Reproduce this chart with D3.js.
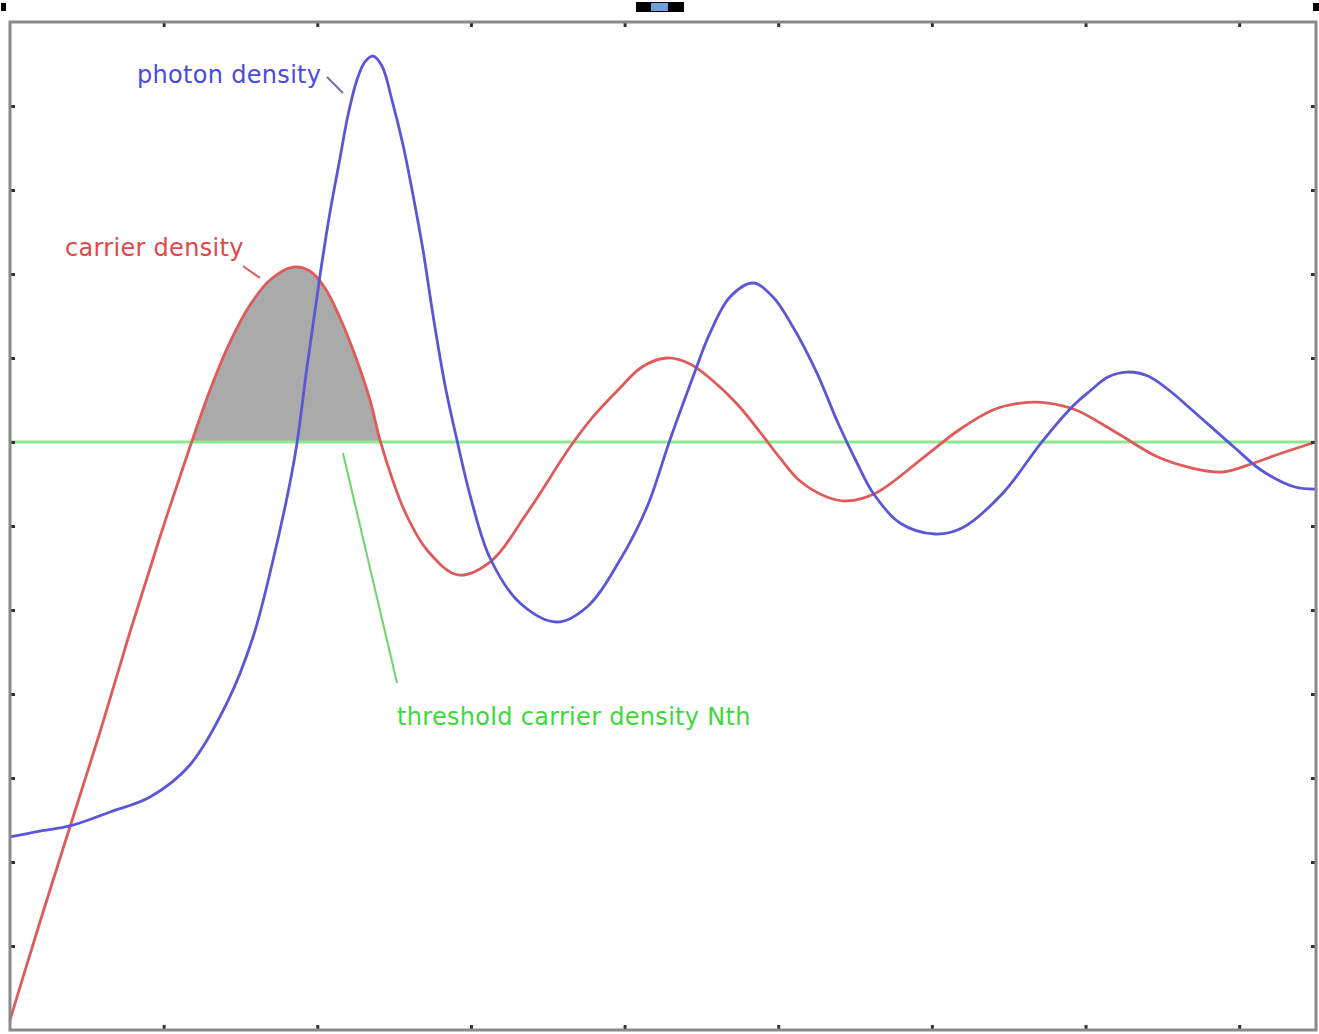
<!DOCTYPE html>
<html>
<head>
<meta charset="utf-8">
<script src="https://cdn.jsdelivr.net/npm/d3@7"></script>
<style>
  body { margin: 0; background: #fff; }
  svg { display: block; }
</style>
</head>
<body>
<div id="chart"></div>
<script>
// carrier density (red)
const carrierT = [0, 0.195, 0.390, 0.586, 0.781, 0.976, 1.171, 1.302, 1.432, 1.562, 1.692, 1.842, 1.952, 2.050, 2.148, 2.245, 2.343, 2.408, 2.486, 2.571, 2.714, 2.916, 3.124, 3.365, 3.645, 3.794, 3.970, 4.113, 4.276, 4.426, 4.569, 4.732, 4.881, 5.011, 5.142, 5.317, 5.447, 5.636, 5.949, 6.176, 6.398, 6.580, 6.756, 6.938, 7.205, 7.471, 7.693, 7.895, 8.096, 8.279, 8.5];
const carrierN = [0.119, 1.286, 2.417, 3.548, 4.738, 5.869, 6.940, 7.619, 8.190, 8.631, 8.929, 9.083, 9.036, 8.833, 8.476, 8.036, 7.5, 7.024, 6.571, 6.167, 5.714, 5.417, 5.571, 6.155, 6.940, 7.298, 7.643, 7.893, 8.0, 7.929, 7.738, 7.452, 7.119, 6.810, 6.536, 6.345, 6.298, 6.393, 6.821, 7.143, 7.381, 7.464, 7.464, 7.381, 7.107, 6.821, 6.690, 6.643, 6.750, 6.869, 7.0];

// photon density (blue)
const photonT = [0, 0.195, 0.390, 0.651, 0.911, 1.171, 1.412, 1.582, 1.712, 1.822, 1.868, 1.933, 1.972, 2.018, 2.083, 2.148, 2.200, 2.258, 2.310, 2.363, 2.421, 2.486, 2.558, 2.623, 2.688, 2.753, 2.831, 2.909, 2.994, 3.124, 3.319, 3.560, 3.755, 3.970, 4.146, 4.295, 4.445, 4.556, 4.686, 4.836, 4.966, 5.096, 5.252, 5.389, 5.513, 5.617, 5.792, 6.020, 6.196, 6.463, 6.710, 6.912, 7.029, 7.146, 7.270, 7.406, 7.550, 7.693, 7.966, 8.142, 8.363, 8.5];
const photonS = [2.298, 2.369, 2.429, 2.595, 2.774, 3.155, 3.893, 4.679, 5.595, 6.512, 6.988, 7.893, 8.393, 8.988, 9.738, 10.381, 10.893, 11.310, 11.524, 11.595, 11.476, 11.071, 10.536, 9.940, 9.286, 8.512, 7.679, 7.024, 6.369, 5.619, 5.083, 4.857, 5.036, 5.595, 6.226, 7.024, 7.774, 8.298, 8.726, 8.893, 8.726, 8.369, 7.821, 7.226, 6.750, 6.393, 6.036, 5.905, 5.976, 6.393, 6.988, 7.417, 7.607, 7.774, 7.833, 7.786, 7.607, 7.381, 6.940, 6.667, 6.464, 6.440];

const threshold = 7;
const xTicks = [1, 2, 3, 4, 5, 6, 7, 8];
const yTicks = [1, 2, 3, 4, 5, 6, 7, 8, 9, 10, 11];

// labels: [text, x, y], leaders: [x1, y1, x2, y2]
const labelPhoton = ["photon density", 0.827, 11.274];
const labelCarrier = ["carrier density", 0.358, 9.214];
const labelThreshold = ["threshold carrier density Nth", 2.519, 3.631];
const leaderPhoton = [2.063, 11.345, 2.167, 11.155];
const leaderCarrier = [1.516, 9.095, 1.627, 8.952];
const leaderThreshold = [2.167, 6.869, 2.519, 4.131];

const W = 1319, H = 1034;
const m = {left: 10, right: 1316, top: 22, bottom: 1030};

const svg = d3.select("#chart").append("svg")
    .attr("width", W)
    .attr("height", H)
    .style("font-family", "'DejaVu Sans', sans-serif");

const x = d3.scaleLinear().domain([0, 8.5]).range([m.left, m.right]);
const y = d3.scaleLinear().domain([0, 12]).range([m.bottom, m.top]);

const carrier = carrierT.map((t, i) => [t, carrierN[i]]);
const photon = photonT.map((t, i) => [t, photonS[i]]);
const smooth = d3.curveCatmullRom.alpha(0.5);

// screenshot bits above the frame
svg.append("rect").attr("x", 1).attr("y", 3).attr("width", 5).attr("height", 8).attr("fill", "#000");
svg.append("rect").attr("x", 1313).attr("y", 3).attr("width", 6).attr("height", 8).attr("fill", "#000");
svg.append("rect").attr("x", 636).attr("y", 2).attr("width", 48).attr("height", 10).attr("fill", "#000");
svg.append("rect").attr("x", 651).attr("y", 3).attr("width", 17).attr("height", 8).attr("fill", "#6f9fd8");

// shaded area above threshold under first carrier peak
svg.append("clipPath").attr("id", "shade")
  .append("rect")
    .attr("x", x(0)).attr("y", m.top)
    .attr("width", x(2.6) - x(0))
    .attr("height", y(threshold) - m.top);

svg.append("path")
    .datum(carrier)
    .attr("clip-path", "url(#shade)")
    .attr("fill", "#aaaaaa")
    .attr("d", d3.area()
        .curve(smooth)
        .x(d => x(d[0]))
        .y0(y(threshold))
        .y1(d => y(d[1])));

// threshold line
svg.append("line")
    .attr("x1", x(0)).attr("x2", x(8.5))
    .attr("y1", y(threshold)).attr("y2", y(threshold))
    .attr("stroke", "#8fe88f")
    .attr("stroke-width", 3);

const line = d3.line()
    .curve(smooth)
    .x(d => x(d[0]))
    .y(d => y(d[1]));

svg.append("path")
    .datum(carrier)
    .attr("fill", "none")
    .attr("stroke", "#e05a5a")
    .attr("stroke-width", 2.8)
    .attr("d", line);

svg.append("path")
    .datum(photon)
    .attr("fill", "none")
    .attr("stroke", "#5858d6")
    .attr("stroke-width", 2.8)
    .attr("d", line);

// frame + inner ticks
const frame = svg.append("g");
frame.append("g").attr("transform", `translate(0,${m.top})`)
    .call(d3.axisBottom(x).tickValues(xTicks).tickSize(5).tickFormat(""));
frame.append("g").attr("transform", `translate(0,${m.bottom})`)
    .call(d3.axisTop(x).tickValues(xTicks).tickSize(5).tickFormat(""));
frame.append("g").attr("transform", `translate(${m.left},0)`)
    .call(d3.axisRight(y).tickValues(yTicks).tickSize(5).tickFormat(""));
frame.append("g").attr("transform", `translate(${m.right},0)`)
    .call(d3.axisLeft(y).tickValues(yTicks).tickSize(5).tickFormat(""));
frame.selectAll(".domain").remove();
frame.selectAll(".tick line").attr("stroke", "#333").attr("stroke-width", 3);

frame.append("rect")
    .attr("x", m.left).attr("y", m.top)
    .attr("width", m.right - m.left).attr("height", m.bottom - m.top)
    .attr("fill", "none")
    .attr("stroke", "#8a8a8a")
    .attr("stroke-width", 3);

// annotations
function leader(l, color) {
  svg.append("line")
      .attr("x1", x(l[0])).attr("y1", y(l[1]))
      .attr("x2", x(l[2])).attr("y2", y(l[3]))
      .attr("stroke", color).attr("stroke-width", 2);
}
function label(l, color) {
  svg.append("text")
      .attr("x", x(l[1])).attr("y", y(l[2]))
      .attr("fill", color)
      .style("font-size", "24px")
      .style("letter-spacing", "0.3px")
      .text(l[0]);
}
leader(leaderPhoton, "#7070b0");
leader(leaderCarrier, "#e05a5a");
leader(leaderThreshold, "#6cd66c");
label(labelPhoton, "#4a4ae0");
label(labelCarrier, "#e04848");
label(labelThreshold, "#3ed83e");
</script>
</body>
</html>
